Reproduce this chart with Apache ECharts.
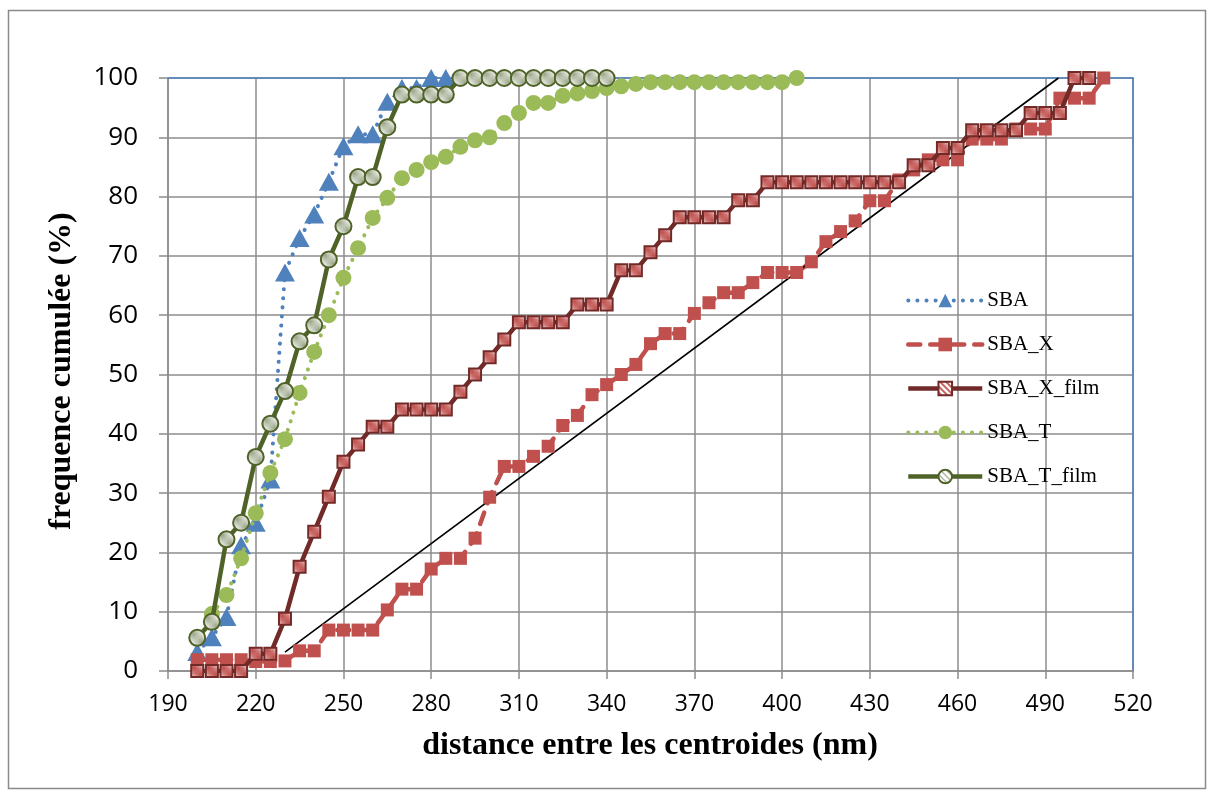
<!DOCTYPE html>
<html>
<head>
<meta charset="utf-8">
<script src="https://cdn.jsdelivr.net/npm/echarts@6/dist/echarts.min.js"></script>
<style>html,body{margin:0;padding:0;background:#fff}#c{width:1214px;height:796px}</style>
</head>
<body>
<div id="c"></div>
<script>
// ---- data ----
const xTickMin = 190, xTickMax = 520, xTickStep = 30;
const yTickMin = 0, yTickMax = 100, yTickStep = 10;

const sbaX = [200,205,210,215,220,225,230,235,240,245,250,255,260,265,270,275,280,285];
const sbaY = [3.2,5.7,9.1,21.2,25,32.3,67.2,73,77,82.5,88.5,90.5,90.5,96,98.3,98.3,100,100];

const sbaXX = [200,205,210,215,220,225,230,235,240,245,250,255,260,265,270,275,280,285,290,295,
  300,305,310,315,320,325,330,335,340,345,350,355,360,365,370,375,380,385,390,395,
  400,405,410,415,420,425,430,435,440,445,450,455,460,465,470,475,480,485,490,495,500,505,510];
const sbaXY = [1.9,1.9,1.9,1.9,1.6,1.6,1.7,3.4,3.4,6.9,6.9,6.9,6.9,10.3,13.8,13.8,17.2,19.0,19.0,22.4,
  29.3,34.5,34.5,36.2,37.9,41.4,43.1,46.6,48.3,50.0,51.7,55.2,56.9,56.9,60.3,62.1,63.8,63.8,65.5,67.2,
  67.2,67.2,69.0,72.4,74.1,75.9,79.3,79.3,82.8,84.5,86.2,86.2,86.2,89.7,89.7,89.7,91.4,91.4,91.4,96.6,96.6,96.6,100];

const filmXX = [200,205,210,215,220,225,230,235,240,245,250,255,260,265,270,275,280,285,290,295,
  300,305,310,315,320,325,330,335,340,345,350,355,360,365,370,375,380,385,390,395,
  400,405,410,415,420,425,430,435,440,445,450,455,460,465,470,475,480,485,490,495,500,505];
const filmXY = [0,0,0,0,2.9,2.9,8.8,17.6,23.5,29.4,35.3,38.2,41.2,41.2,44.1,44.1,44.1,44.1,47.1,50.0,
  52.9,55.9,58.8,58.8,58.8,58.8,61.8,61.8,61.8,67.6,67.6,70.6,73.5,76.5,76.5,76.5,76.5,79.4,79.4,82.4,
  82.4,82.4,82.4,82.4,82.4,82.4,82.4,82.4,82.4,85.3,85.3,88.2,88.2,91.2,91.2,91.2,91.2,94.1,94.1,94.1,100,100];

const sbaTX = [205,210,215,220,225,230,235,240,245,250,255,260,265,270,275,280,285,290,295,
  300,305,310,315,320,325,330,335,340,345,350,355,360,365,370,375,380,385,390,395,400,405];
const sbaTY = [9.6,12.8,19.0,26.6,33.4,39.1,46.9,53.8,60.0,66.3,71.3,76.4,79.8,83.1,84.5,85.8,86.7,88.4,89.5,
  90.0,92.4,94.1,95.8,95.8,97.0,97.4,97.8,98.3,98.6,99.0,99.3,99.3,99.3,99.3,99.3,99.3,99.3,99.3,99.3,99.3,100];

const filmTX = [200,205,210,215,220,225,230,235,240,245,250,255,260,265,270,275,280,285,
  290,295,300,305,310,315,320,325,330,335,340];
const filmTY = [5.6,8.3,22.2,25.0,36.1,41.7,47.2,55.6,58.3,69.4,75.0,83.3,83.3,91.7,97.2,97.2,97.2,97.2,
  100,100,100,100,100,100,100,100,100,100,100];

const refLineX = [230, 494.5];
const refLineY = [3.2, 100];

const seriesNames = ['SBA','SBA_X','SBA_X_film','SBA_T','SBA_T_film'];
const xTitle = 'distance entre les centroides (nm)';
const yTitle = 'frequence cumulée (%)';

// ---- helpers ----
function zip(xs, ys){ return xs.map((x,i)=>[x, ys[i]]); }
function hatch(color, lw){
  const c = document.createElement('canvas');
  c.width = 6; c.height = 6;
  const g = c.getContext('2d');
  g.fillStyle = '#ffffff'; g.fillRect(0,0,6,6);
  g.strokeStyle = color; g.lineWidth = lw;
  g.beginPath();
  g.moveTo(0,0); g.lineTo(6,6); g.moveTo(-1,5); g.lineTo(1,7); g.moveTo(5,-1); g.lineTo(7,1);
  g.stroke();
  return c;
}

const chart = echarts.init(document.getElementById('c'), null, {renderer:'canvas'});
const blue = '#4F81BD', red = '#C0504D', dred = '#722A28', lgreen = '#9BBB59', dgreen = '#4F6228';
const gridGray = '#8c8c8c';
const patX = { image: hatch(red, 1.8), repeat: 'repeat' };
const patT = { image: hatch('#97a283', 1.2), repeat: 'repeat' };

const styles = [
  { symbol: 'triangle', itemStyle: { color: blue }, lineStyle: { color: blue, width: 4, type: [0.1, 9], cap: 'round' } },
  { symbol: 'rect', itemStyle: { color: red }, lineStyle: { color: red, width: 4.5, type: [12, 10], cap: 'round' } },
  { symbol: 'rect', itemStyle: { color: patX, borderColor: dred, borderWidth: 2 }, lineStyle: { color: dred, width: 4.5 } },
  { symbol: 'circle', itemStyle: { color: lgreen }, lineStyle: { color: lgreen, width: 4, type: [0.1, 9], cap: 'round' } },
  { symbol: 'circle', itemStyle: { color: patT, borderColor: dgreen, borderWidth: 2 }, lineStyle: { color: dgreen, width: 4.5 } }
];

const option = {
  animation: false,
  backgroundColor: '#ffffff',
  grid: { left: 168, right: 81, top: 78, bottom: 125, show: false },
  legend: {
    orient: 'vertical', left: 901, top: 285,
    itemWidth: 74, itemHeight: 17, itemGap: 23,
    textStyle: { fontFamily: 'Liberation Serif', fontSize: 21, color: '#000' },
    data: seriesNames.map((n, i) => ({
      name: n,
      itemStyle: styles[i].itemStyle,
      lineStyle: styles[i].lineStyle
    }))
  },
  xAxis: [{
    type: 'value', min: xTickMin, max: xTickMax, interval: xTickStep,
    axisLine: { show: true, lineStyle: { color: gridGray, width: 1.5 } },
    axisTick: { show: true, length: 8, lineStyle: { color: gridGray, width: 1.5 } },
    axisLabel: { margin: 22, fontFamily: 'Open Sans', fontSize: 23, color: '#000' },
    splitLine: { show: true, lineStyle: { color: gridGray, width: 1.5 } }
  },{
    type: 'value', position: 'top', min: xTickMin, max: xTickMax,
    axisLine: { show: true, onZero: false, lineStyle: { color: blue, width: 1.5 } },
    axisTick: { show: false }, axisLabel: { show: false }, splitLine: { show: false }
  }],
  yAxis: [{
    type: 'value', min: yTickMin, max: yTickMax, interval: yTickStep,
    axisLine: { show: true, lineStyle: { color: gridGray, width: 1.5 } },
    axisTick: { show: true, length: 9, lineStyle: { color: gridGray, width: 1.5 } },
    axisLabel: { margin: 30, fontFamily: 'Open Sans', fontSize: 26, color: '#000' },
    splitLine: { show: true, lineStyle: { color: gridGray, width: 1.5 } }
  },{
    type: 'value', position: 'right', min: yTickMin, max: yTickMax,
    axisLine: { show: true, onZero: false, lineStyle: { color: blue, width: 1.5 } },
    axisTick: { show: false }, axisLabel: { show: false }, splitLine: { show: false }
  }],
  series: [
    Object.assign({ name: seriesNames[0], type: 'line', data: zip(sbaX, sbaY), symbolSize: [20, 18],
      emphasis: { disabled: true }, z: 2 }, styles[0]),
    Object.assign({ name: seriesNames[1], type: 'line', data: zip(sbaXX, sbaXY), symbolSize: 13,
      emphasis: { disabled: true }, z: 3 }, styles[1]),
    Object.assign({ name: seriesNames[2], type: 'line', data: zip(filmXX, filmXY), symbolSize: 12,
      emphasis: { disabled: true }, z: 4 }, styles[2]),
    Object.assign({ name: seriesNames[3], type: 'line', data: zip(sbaTX, sbaTY), symbolSize: 16,
      emphasis: { disabled: true }, z: 5 }, styles[3]),
    Object.assign({ name: seriesNames[4], type: 'line', data: zip(filmTX, filmTY), symbolSize: 16,
      emphasis: { disabled: true }, z: 6 }, styles[4]),
    {
      name: 'ref', type: 'line', data: zip(refLineX, refLineY),
      symbol: 'none', lineStyle: { color: '#000', width: 1.6 },
      emphasis: { disabled: true }, z: 3, silent: true
    }
  ],
  graphic: [
    { type: 'rect', shape: { x: 8.5, y: 10.5, width: 1197, height: 778 },
      style: { fill: 'none', stroke: '#8a8a8a', lineWidth: 1.5 }, silent: true, z: -1 },
    { type: 'text', x: 650, y: 746,
      style: { text: xTitle, fontFamily: 'Liberation Serif', fontWeight: 'bold', fontSize: 32,
               fill: '#000', textAlign: 'center', textVerticalAlign: 'middle' } },
    { type: 'text', x: 62, y: 371, rotation: Math.PI / 2,
      style: { text: yTitle, fontFamily: 'Liberation Serif', fontWeight: 'bold', fontSize: 32,
               fill: '#000', textAlign: 'center', textVerticalAlign: 'middle' } }
  ]
};
chart.setOption(option);
</script>
</body>
</html>
